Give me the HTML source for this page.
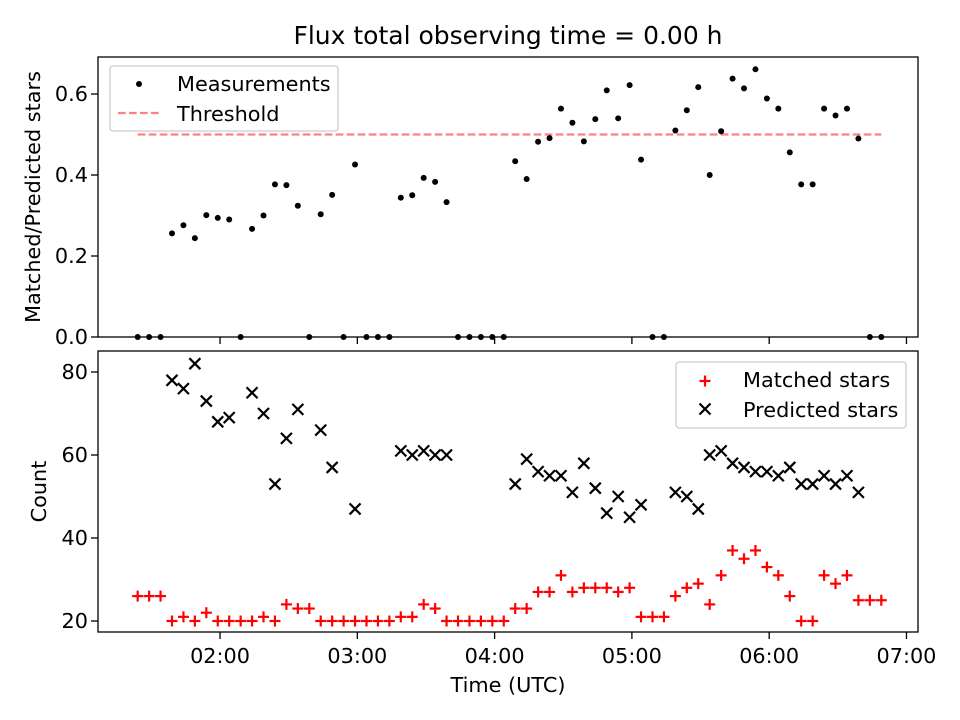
<!DOCTYPE html>
<html><head><meta charset="utf-8"><style>
html,body{margin:0;padding:0;background:#fff;}
svg{display:block;font-family:"DejaVu Sans","Liberation Sans",sans-serif;}
</style></head><body>
<svg id="fig" width="960" height="720" viewBox="0 0 960 720" xmlns="http://www.w3.org/2000/svg">
<rect width="960" height="720" fill="#fff"/>
<text x="508" y="44" text-anchor="middle" font-size="25">Flux total observing time = 0.00 h</text>
<g id="topPanel"></g>
<g id="botPanel"></g>
</svg>
<script>
const startHour = 1.4;
const stepMinutes = 5;
const ratio = [0,0,0,0.256,0.276,0.244,0.301,0.294,0.290,0,0.267,0.300,0.377,0.375,0.324,0,0.303,0.351,0,0.426,0,0,0,0.344,0.350,0.393,0.383,0.333,0,0,0,0,0,0.434,0.390,0.482,0.491,0.564,0.529,0.483,0.538,0.609,0.540,0.622,0.438,0,0,0.510,0.560,0.617,0.400,0.508,0.638,0.614,0.661,0.589,0.564,0.456,0.377,0.377,0.564,0.547,0.564,0.490,0,0];
const matched = [26,26,26,20,21,20,22,20,20,20,20,21,20,24,23,23,20,20,20,20,20,20,20,21,21,24,23,20,20,20,20,20,20,23,23,27,27,31,27,28,28,28,27,28,21,21,21,26,28,29,24,31,37,35,37,33,31,26,20,20,31,29,31,25,25,25];
const predicted = [null,null,null,78,76,82,73,68,69,null,75,70,53,64,71,null,66,57,null,47,null,null,null,61,60,61,60,60,null,null,null,null,null,53,59,56,55,55,51,58,52,46,50,45,48,null,null,51,50,47,60,61,58,57,56,56,55,57,53,53,55,53,55,51,null,null];
const threshold = 0.5;
const ratioTicks = [0.0,0.2,0.4,0.6];
const countTicks = [20,40,60,80];
const timeTicks = [2,3,4,5,6,7];

const NS='http://www.w3.org/2000/svg';
function mk(tag, attrs, parent){const e=document.createElementNS(NS,tag);for(const k in attrs)e.setAttribute(k,attrs[k]);parent.appendChild(e);return e;}
const FS=20.8;
const L=98,R=918;
const xMin=1.111,xMax=7.084;
const xs=h=>L+(h-xMin)/(xMax-xMin)*(R-L);
const T={top:57,bot:337,min:0,max:0.6914};
const B={top:351,bot:632,min:17.35,max:85.06};
const yT=v=>T.bot-(v-T.min)/(T.max-T.min)*(T.bot-T.top);
const yB=v=>B.bot-(v-B.min)/(B.max-B.min)*(B.bot-B.top);
const hourOf=i=>startHour+i*stepMinutes/60;
const topG=document.getElementById('topPanel'), botG=document.getElementById('botPanel');
const fmt=h=>String(Math.floor(h)).padStart(2,'0')+':00';

// top panel
const thr=mk('line',{x1:xs(hourOf(0)),x2:xs(hourOf(ratio.length-1)),y1:yT(threshold),y2:yT(threshold),stroke:'#ff8080','stroke-width':2.2,'stroke-dasharray':'7.7,3.3'},topG);


ratio.forEach((v,i)=>{
  const c=mk('circle',{cx:xs(hourOf(i)),cy:yT(v),r:3,fill:'#000'},topG);
  
  
});
ratioTicks.forEach(t=>{
  const y=yT(t);
  mk('line',{x1:L-7,x2:L,y1:y,y2:y,stroke:'#000','stroke-width':1.3},topG);
  const tx=mk('text',{x:L-10,y:y+7,'text-anchor':'end','font-size':FS},topG);tx.textContent=t.toFixed(1);
  
  
});
timeTicks.forEach(t=>{mk('line',{x1:xs(t),x2:xs(t),y1:T.bot,y2:T.bot+7,stroke:'#000','stroke-width':1.3},topG);});
const f1=mk('rect',{x:L,y:T.top,width:R-L,height:T.bot-T.top,fill:'none',stroke:'#000','stroke-width':1.3},topG);


const yl1=mk('text',{x:0,y:0,'text-anchor':'middle','font-size':FS,transform:`translate(40,${(T.top+T.bot)/2}) rotate(-90)`},topG);yl1.textContent='Matched/Predicted stars';


const lg1=mk('g',{},topG);


mk('rect',{x:110,y:66,width:228,height:65,rx:3,fill:'#fff','fill-opacity':0.8,stroke:'#ccc','stroke-width':1.3},lg1);
mk('circle',{cx:139,cy:84,r:3,fill:'#000'},lg1);
mk('line',{x1:118,x2:160,y1:113,y2:113,stroke:'#ff8080','stroke-width':2.2,'stroke-dasharray':'7.7,3.3'},lg1);
let t1=mk('text',{x:177,y:91,'font-size':FS},lg1);t1.textContent='Measurements';
let t2=mk('text',{x:177,y:121,'font-size':FS},lg1);t2.textContent='Threshold';

// bottom panel
function plus(x,y,p){const g=mk('g',{stroke:'#f00','stroke-width':2.2},p);mk('line',{x1:x-5.5,x2:x+5.5,y1:y,y2:y},g);mk('line',{x1:x,x2:x,y1:y-5.5,y2:y+5.5},g);return g;}
function cross(x,y,p){const g=mk('g',{stroke:'#000','stroke-width':2.2},p);mk('line',{x1:x-5.5,x2:x+5.5,y1:y-5.5,y2:y+5.5},g);mk('line',{x1:x-5.5,x2:x+5.5,y1:y+5.5,y2:y-5.5},g);return g;}
matched.forEach((v,i)=>{
  const g=plus(xs(hourOf(i)),yB(v),botG);
  
  
});
predicted.forEach((v,i)=>{
  if(v===null)return;
  const g=cross(xs(hourOf(i)),yB(v),botG);
  
  
});
countTicks.forEach(t=>{
  const y=yB(t);
  mk('line',{x1:L-7,x2:L,y1:y,y2:y,stroke:'#000','stroke-width':1.3},botG);
  const tx=mk('text',{x:L-10,y:y+7,'text-anchor':'end','font-size':FS},botG);tx.textContent=t;
  
  
});
timeTicks.forEach(t=>{
  mk('line',{x1:xs(t),x2:xs(t),y1:B.bot,y2:B.bot+7,stroke:'#000','stroke-width':1.3},botG);
  const tx=mk('text',{x:xs(t),y:B.bot+31,'text-anchor':'middle','font-size':FS},botG);tx.textContent=fmt(t);
  
  
});
const f2=mk('rect',{x:L,y:B.top,width:R-L,height:B.bot-B.top,fill:'none',stroke:'#000','stroke-width':1.3},botG);


const yl2=mk('text',{x:0,y:0,'text-anchor':'middle','font-size':FS,transform:`translate(46,${(B.top+B.bot)/2}) rotate(-90)`},botG);yl2.textContent='Count';


const xl=mk('text',{x:(L+R)/2,y:692,'text-anchor':'middle','font-size':FS},botG);xl.textContent='Time (UTC)';


const lg2=mk('g',{},botG);


mk('rect',{x:676,y:362,width:230,height:66,rx:3,fill:'#fff','fill-opacity':0.8,stroke:'#ccc','stroke-width':1.3},lg2);
plus(705,381,lg2);cross(705,409,lg2);
let t3=mk('text',{x:743,y:387,'font-size':FS},lg2);t3.textContent='Matched stars';
let t4=mk('text',{x:743,y:417,'font-size':FS},lg2);t4.textContent='Predicted stars';
</script>
</body></html>
